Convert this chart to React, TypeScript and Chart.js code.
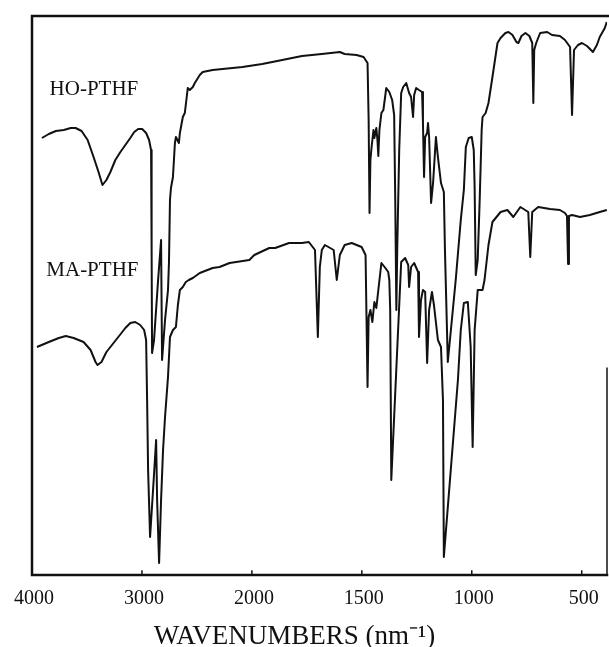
import React, { useEffect, useRef } from "react";
import { Chart, registerables } from "chart.js";

Chart.register(...registerables);

// ---- data (wavenumber in cm-1, transmittance in arbitrary units) ----
const HO_WAVENUMBER = [
  3910, 3847, 3783, 3711, 3648, 3603, 3549, 3494, 3440, 3395, 3359, 3323, 3287, 3242, 3196, 3151,
  3106, 3070, 3034, 2998, 2962, 2935, 2917, 2912, 2908, 2890, 2853, 2826, 2817, 2790, 2763, 2754,
  2745, 2736, 2718, 2700, 2691, 2664, 2655, 2628, 2610, 2583, 2565, 2537, 2519, 2474, 2447, 2357,
  2267, 2086, 1953, 1862, 1772, 1682, 1600, 1578, 1524, 1492, 1474, 1469, 1465, 1461, 1456, 1447,
  1443, 1434, 1429, 1425, 1420, 1411, 1402, 1393, 1389, 1375, 1362, 1353, 1348, 1343, 1339, 1330,
  1321, 1312, 1298, 1285, 1276, 1267, 1262, 1253, 1240, 1226, 1222, 1217, 1212, 1203, 1199, 1194,
  1185, 1176, 1163, 1154, 1140, 1127, 1122, 1109, 1073, 1050, 1036, 1027, 1014, 1000, 991, 987,
  982, 973, 964, 955, 951, 937, 924, 906, 883, 869, 847, 833, 815, 797, 788, 774, 756, 738, 725,
  720, 716, 707, 689, 657, 635, 599, 576, 553, 544, 535, 517, 499, 476, 449, 431, 418, 395, 386,
];
const HO_TRANSMITTANCE = [
  437, 441, 444, 445, 447, 447, 444, 435, 418, 403, 390, 395, 403, 415, 423, 430,
  437, 443, 446, 446, 442, 435, 425, 325, 222, 235, 295, 335, 215, 255, 285, 313,
  375, 387, 398, 432, 438, 432, 442, 458, 462, 487, 485, 488, 492, 500, 503, 505,
  506, 508, 511, 515, 519, 521, 523, 521, 520, 518, 512, 455, 362, 415, 427, 445,
  437, 447, 435, 419, 445, 462, 465, 480, 487, 483, 475, 460, 375, 265, 325, 425,
  482, 488, 492, 482, 478, 458, 480, 487, 485, 483, 452, 398, 438, 442, 452, 438,
  372, 392, 438, 418, 392, 383, 325, 213, 295, 355, 385, 428, 437, 438, 425, 388,
  300, 315, 375, 445, 458, 462, 472, 498, 532, 537, 542, 543, 540, 533, 532, 539, 542, 539, 532,
  472, 525, 532, 542, 543, 540, 539, 535, 528, 460, 525, 530, 532, 529, 523, 530, 538, 547, 553,
];

const MA_WAVENUMBER = [
  3955, 3847, 3756, 3693, 3621, 3531, 3467, 3422, 3404, 3368, 3323, 3287, 3215, 3151, 3106, 3061,
  3016, 2980, 2962, 2953, 2944, 2926, 2899, 2871, 2862, 2844, 2826, 2808, 2790, 2763, 2745, 2718,
  2691, 2673, 2655, 2628, 2601, 2574, 2537, 2474, 2357, 2294, 2203, 2023, 1989, 1921, 1894, 1831,
  1772, 1741, 1713, 1700, 1691, 1682, 1668, 1628, 1614, 1600, 1578, 1546, 1501, 1483, 1474, 1469,
  1461, 1452, 1443, 1434, 1425, 1411, 1393, 1380, 1375, 1371, 1366, 1321, 1303, 1289, 1285, 1276,
  1262, 1244, 1240, 1231, 1222, 1212, 1203, 1194, 1181, 1172, 1154, 1140, 1131, 1127, 1063, 1050,
  1036, 1018, 1005, 996, 987, 973, 951, 942, 924, 906, 869, 838, 811, 779, 743, 734, 725, 698,
  644, 599, 576, 567, 562, 558, 544, 508, 463, 418, 386,
];
const MA_TRANSMITTANCE = [
  228, 233, 237, 239, 237, 233, 225, 213, 210, 213, 223, 228, 238, 247, 252, 253,
  250, 245, 235, 175, 105, 38, 85, 135, 75, 12, 75, 125, 158, 198, 238, 245,
  248, 270, 285, 288, 293, 295, 297, 302, 307, 308, 312, 315, 320, 327, 327, 332,
  332, 333, 325, 238, 308, 325, 330, 325, 295, 320, 330, 332, 328, 320, 188, 258,
  265, 253, 273, 267, 285, 312, 307, 303, 295, 265, 95, 313, 317, 310, 288, 308,
  312, 303, 238, 275, 285, 283, 212, 265, 283, 270, 235, 228, 175, 18, 195, 245,
  272, 273, 228, 128, 245, 285, 285, 295, 330, 353, 363, 365, 358, 368, 363, 318, 363, 368,
  366, 365, 362, 359, 311, 359, 360, 358, 360, 363, 365,
];

const SERIES_NAMES = ["HO-PTHF", "MA-PTHF"];
// where each series name sits, in data coordinates (wavenumber, transmittance)
const NAME_WAVENUMBER = [3840, 3870];
const NAME_TRANSMITTANCE = [480, 299];

const TICK_WAVENUMBERS = [4000, 3000, 2000, 1500, 1000, 500];
const X_MAX_WAVENUMBER = 4000;
const X_MIN_WAVENUMBER = 385;
const X_TITLE = "WAVENUMBERS (nm\u207B\u00B9)";

// the spectrometer halves its scale below 2000 cm-1
const toAxis = (w: number) => (w >= 2000 ? (4000 - w) / 2000 : 1 + (2000 - w) / 1000);
const fromAxis = (u: number) => (u <= 1 ? 4000 - 2000 * u : 2000 - 1000 * (u - 1));

const SERIF = "'Liberation Serif', 'Times New Roman', Times, serif";

const framePlugin = {
  id: "frame",
  afterDraw(chart: any) {
    const { ctx, chartArea } = chart;
    const { left, right, top, bottom } = chartArea;
    const xs = chart.scales.x;
    ctx.save();
    ctx.strokeStyle = "#111";
    ctx.lineCap = "square";
    ctx.lineWidth = 2.5;
    ctx.beginPath();
    ctx.moveTo(left, bottom);
    ctx.lineTo(left, top);
    ctx.lineTo(chart.width, top);
    ctx.moveTo(left, bottom);
    ctx.lineTo(right, bottom);
    ctx.stroke();
    ctx.lineWidth = 1.5;
    ctx.beginPath();
    ctx.moveTo(right, top + (bottom - top) * 0.63);
    ctx.lineTo(right, bottom);
    ctx.stroke();
    // small inward tick marks
    ctx.beginPath();
    TICK_WAVENUMBERS.slice(1).forEach((w) => {
      const px = xs.getPixelForValue(toAxis(w));
      ctx.moveTo(px, bottom);
      ctx.lineTo(px, bottom - 4);
    });
    ctx.stroke();
    // axis title, centred on the page as in the original figure
    ctx.fillStyle = "#111";
    ctx.font = `27px ${SERIF}`;
    ctx.textAlign = "center";
    ctx.textBaseline = "alphabetic";
    ctx.fillText(X_TITLE, chart.width / 2 - 10, chart.height - 3);
    ctx.restore();
  },
};

const namePlugin = {
  id: "seriesNames",
  afterDatasetsDraw(chart: any) {
    const { ctx } = chart;
    const xs = chart.scales.x;
    const ys = chart.scales.y;
    ctx.save();
    ctx.fillStyle = "#111";
    ctx.font = `21px ${SERIF}`;
    ctx.textAlign = "left";
    ctx.textBaseline = "alphabetic";
    SERIES_NAMES.forEach((name, i) => {
      ctx.fillText(
        name,
        xs.getPixelForValue(toAxis(NAME_WAVENUMBER[i])),
        ys.getPixelForValue(NAME_TRANSMITTANCE[i])
      );
    });
    ctx.restore();
  },
};

export default function App() {
  const canvasRef = useRef<HTMLCanvasElement | null>(null);

  useEffect(() => {
    if (!canvasRef.current) return;
    const toPoints = (ws: number[], ts: number[]) => ws.map((w, i) => ({ x: toAxis(w), y: ts[i] }));
    const chart = new Chart(canvasRef.current, {
      type: "line",
      data: {
        datasets: [
          {
            label: SERIES_NAMES[0],
            data: toPoints(HO_WAVENUMBER, HO_TRANSMITTANCE),
            borderColor: "#111",
            borderWidth: 2,
            pointRadius: 0,
            tension: 0,
            fill: false,
            borderJoinStyle: "round",
          },
          {
            label: SERIES_NAMES[1],
            data: toPoints(MA_WAVENUMBER, MA_TRANSMITTANCE),
            borderColor: "#111",
            borderWidth: 2,
            pointRadius: 0,
            tension: 0,
            fill: false,
            borderJoinStyle: "round",
          },
        ],
      },
      options: {
        responsive: false,
        animation: false,
        events: [],
        layout: { padding: { left: 28, right: 2, top: 16, bottom: 0 } },
        plugins: { legend: { display: false }, tooltip: { enabled: false } },
        scales: {
          x: {
            type: "linear",
            min: toAxis(X_MAX_WAVENUMBER),
            max: toAxis(X_MIN_WAVENUMBER),
            grid: { display: false, drawTicks: false },
            border: { display: false },
            afterBuildTicks: (scale: any) => {
              scale.ticks = TICK_WAVENUMBERS.map((w) => ({ value: toAxis(w) }));
            },
            afterFit: (scale: any) => {
              scale.height = 72;
            },
            ticks: {
              autoSkip: false,
              maxRotation: 0,
              padding: 12,
              labelOffset: 2,
              color: "#111",
              font: { family: SERIF, size: 20 },
              callback: (v: any) => String(Math.round(fromAxis(Number(v)))),
            },
            title: { display: false, text: X_TITLE },
          },
          y: {
            display: false,
            min: 0,
            max: 559,
          },
        },
      },
      plugins: [framePlugin, namePlugin],
    });
    return () => chart.destroy();
  }, []);

  return (
    <canvas
      ref={canvasRef}
      width={609}
      height={647}
      style={{ position: "fixed", left: 0, top: 0, width: 609, height: 647, display: "block", background: "#fff" }}
    />
  );
}
